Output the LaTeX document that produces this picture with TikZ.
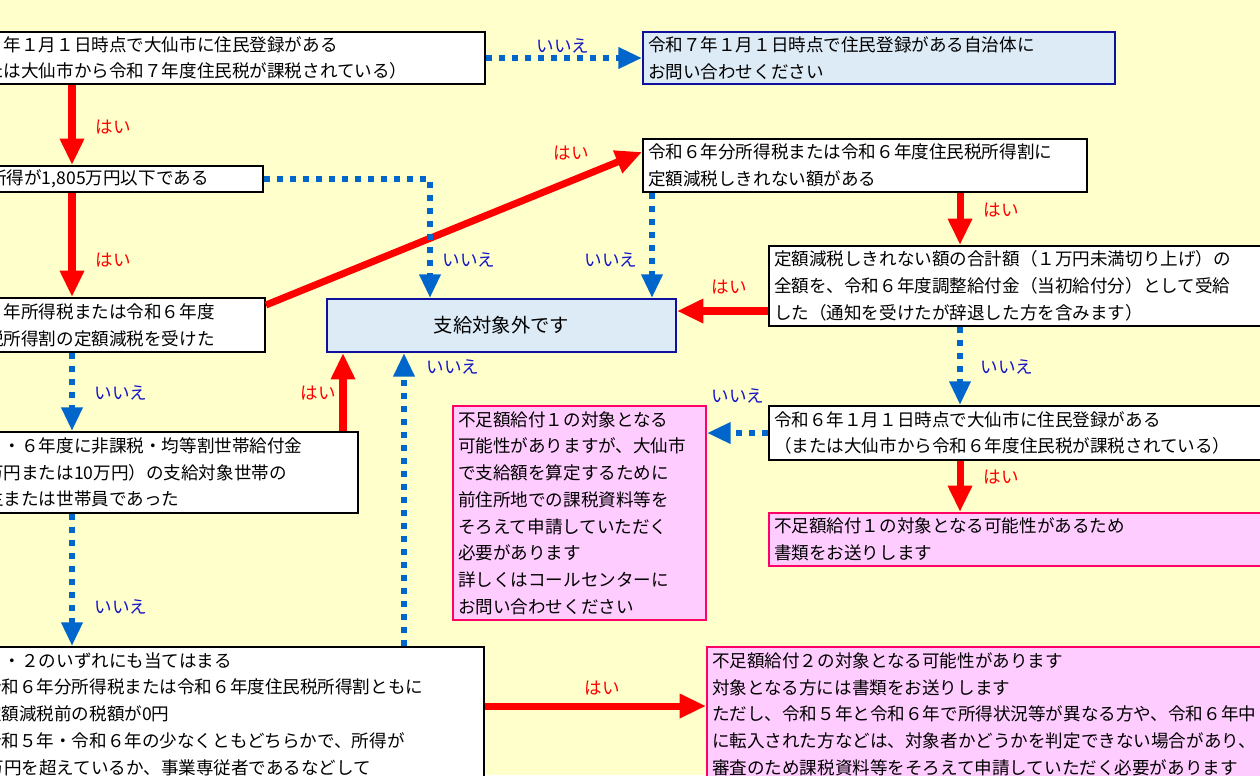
\documentclass[tikz,border=0pt]{standalone}
\usepackage{fontspec}
\setmainfont{Noto Sans CJK JP}
\usetikzlibrary{arrows.meta}

\definecolor{paper}{HTML}{FFFFCC}
\definecolor{yesred}{HTML}{FF0000}
\definecolor{nodots}{HTML}{0066CC}
\definecolor{notext}{HTML}{1414C8}
\definecolor{outfill}{HTML}{DDEBF7}
\definecolor{outline}{HTML}{10109E}
\definecolor{pinkfill}{HTML}{FFCCFF}
\definecolor{pinkline}{HTML}{FF0066}

\tikzset{
	qbox/.style={draw=black, line width=1.1pt, fill=white, inner xsep=0.1cm, inner ysep=0pt,
		align=left, font=\fontsize{10}{15.2}\selectfont},
	endbox/.style={qbox, draw=outline, fill=outfill},
	pinkbox/.style={qbox, draw=pinkline, fill=pinkfill},
	yesarrow/.style={color=yesred, line width=4pt, line cap=butt, -{Triangle[length=15pt,width=13pt]}},
	noarrow/.style={color=nodots, line width=3.4pt, line cap=butt, dash pattern=on 3.4pt off 4pt,
		-{Triangle[length=13.5pt,width=11.5pt]}},
	yeslbl/.style={text=yesred, font=\fontsize{10}{12}\selectfont},
	nolbl/.style={text=notext, font=\fontsize{10}{12}\selectfont},
}

\begin{document}
\begin{tikzpicture}[x=0.02cm, y=-0.02cm]
	\useasboundingbox (0,0) rectangle (1260,775);
	\fill[paper] (0,0) rectangle (1260,775);
	\clip (0,0) rectangle (1260,775);

	% columns and rows the connectors run along
	\coordinate (colA) at (72,0);
	\coordinate (colE) at (430,0);
	\coordinate (colF) at (652,0);
	\coordinate (colG) at (960,0);
	\coordinate (colK) at (343,0);
	\coordinate (colL) at (404,0);
	\coordinate (rowGE) at (0,311);
	\coordinate (rowLM) at (0,706);

	% questions and answers
	\node[qbox, text width=10.58cm, minimum height=1.04cm] (resid7) at (215.5,58)
		{令和７年１月１日時点で大仙市に住民登録がある\\（または大仙市から令和７年度住民税が課税されている）};
	\node[endbox, text width=9.24cm, minimum height=1.04cm] (askcity) at (879,58)
		{令和７年１月１日時点で住民登録がある自治体に\\お問い合わせください};
	\node[qbox, text width=6.08cm, minimum height=0.52cm] (income) at (106,179)
		{合計所得が1,805万円以下である};
	\node[qbox, text width=6.18cm, minimum height=1.08cm] (reduced) at (105.5,325)
		{令和６年所得税または令和６年度\\住民税所得割の定額減税を受けた};
	\node[endbox, align=center, font=\fontsize{11}{13}\selectfont, minimum width=6.98cm, minimum height=1.06cm] (outside) at (501.5,325.5)
		{支給対象外です};
	\node[qbox, text width=8.68cm, minimum height=1.06cm] (remain) at (865,165.5)
		{令和６年分所得税または令和６年度住民税所得割に\\定額減税しきれない額がある};
	\node[qbox, text width=9.92cm, minimum height=1.6cm] (adjust) at (1022,286)
		{定額減税しきれない額の合計額（１万円未満切り上げ）の\\全額を、令和６年度調整給付金（当初給付分）として受給\\した（通知を受けたが辞退した方を含みます）};
	\node[qbox, text width=9.92cm, minimum height=1.08cm] (resid6) at (1022,433)
		{令和６年１月１日時点で大仙市に住民登録がある\\（または大仙市から令和６年度住民税が課税されている）};
	\node[pinkbox, text width=9.92cm, minimum height=1.06cm] (short1) at (1022,539.5)
		{不足額給付１の対象となる可能性があるため\\書類をお送りします};
	\node[pinkbox, text width=4.86cm, minimum height=4.28cm] (short1call) at (579.5,513)
		{不足額給付１の対象となる\\可能性がありますが、大仙市\\で支給額を算定するために\\前住所地での課税資料等を\\そろえて申請していただく\\必要があります\\詳しくはコールセンターに\\お問い合わせください};
	\node[qbox, text width=8.04cm, minimum height=1.62cm] (household) at (152,472.5)
		{令和５・６年度に非課税・均等割世帯給付金\\（７万円または10万円）の支給対象世帯の\\世帯主または世帯員であった};
	\node[qbox, text width=10.56cm, minimum height=2.68cm] (zerotax) at (215,714)
		{次の１・２のいずれにも当てはまる\\
		\makebox[0.66cm][l]{１}令和６年分所得税または令和６年度住民税所得割ともに\\
		\hspace*{0.66cm}定額減税前の税額が0円\\
		\makebox[0.66cm][l]{２}令和５年・令和６年の少なくともどちらかで、所得が\\
		\hspace*{0.32cm}48万円を超えているか、事業専従者であるなどして};
	\node[pinkbox, text width=11.16cm, minimum height=2.68cm] (short2) at (991,714)
		{不足額給付２の対象となる可能性があります\\対象となる方には書類をお送りします\\ただし、令和５年と令和６年で所得状況等が異なる方や、令和６年中\\に転入された方などは、対象者かどうかを判定できない場合があり、\\審査のため課税資料等をそろえて申請していただく必要があります};

	% yes
	\path[yesarrow]
	(resid7.south -| colA) edge (income.north -| colA)
	(income.south -| colA) edge (reduced.north -| colA)
	([yshift=0.4cm]reduced.east) edge ([yshift=0.27cm]remain.west)
	(remain.south -| colG) edge (adjust.north -| colG)
	(adjust.west |- rowGE) edge (outside.east |- rowGE)
	(resid6.south -| colG) edge (short1.north -| colG)
	(household.north -| colK) edge (outside.south -| colK)
	(zerotax.east |- rowLM) edge (short2.west |- rowLM);

	% no
	\path[noarrow]
	(resid7.east) edge (askcity.west)
	(remain.south -| colF) edge (outside.north -| colF)
	(adjust.south -| colG) edge (resid6.north -| colG)
	(resid6.west) edge (short1call.east |- resid6.west)
	(reduced.south -| colA) edge (household.north -| colA)
	(household.south -| colA) edge (zerotax.north -| colA)
	(zerotax.north -| colL) edge (outside.south -| colL);
	\draw[noarrow] (income.east) -| (outside.north -| colE);

	% labels
	\node[yeslbl] (yesA) at (113,127) {はい};
	\node[yeslbl] (yesB) at (113,260) {はい};
	\node[yeslbl] (yesC) at (571,153) {はい};
	\node[yeslbl] (yesD) at (1001,210) {はい};
	\node[yeslbl] (yesE) at (729,287) {はい};
	\node[yeslbl] (yesF) at (1001,477) {はい};
	\node[yeslbl] (yesG) at (318,393) {はい};
	\node[yeslbl] (yesH) at (602,688) {はい};
	\node[nolbl] (noA) at (563,46) {いいえ};
	\node[nolbl] (noB) at (469,260) {いいえ};
	\node[nolbl] (noC) at (611,260) {いいえ};
	\node[nolbl] (noD) at (1007,367) {いいえ};
	\node[nolbl] (noE) at (738,396) {いいえ};
	\node[nolbl] (noF) at (121,393) {いいえ};
	\node[nolbl] (noG) at (453,367) {いいえ};
	\node[nolbl] (noH) at (121,607) {いいえ};
\end{tikzpicture}
\end{document}
